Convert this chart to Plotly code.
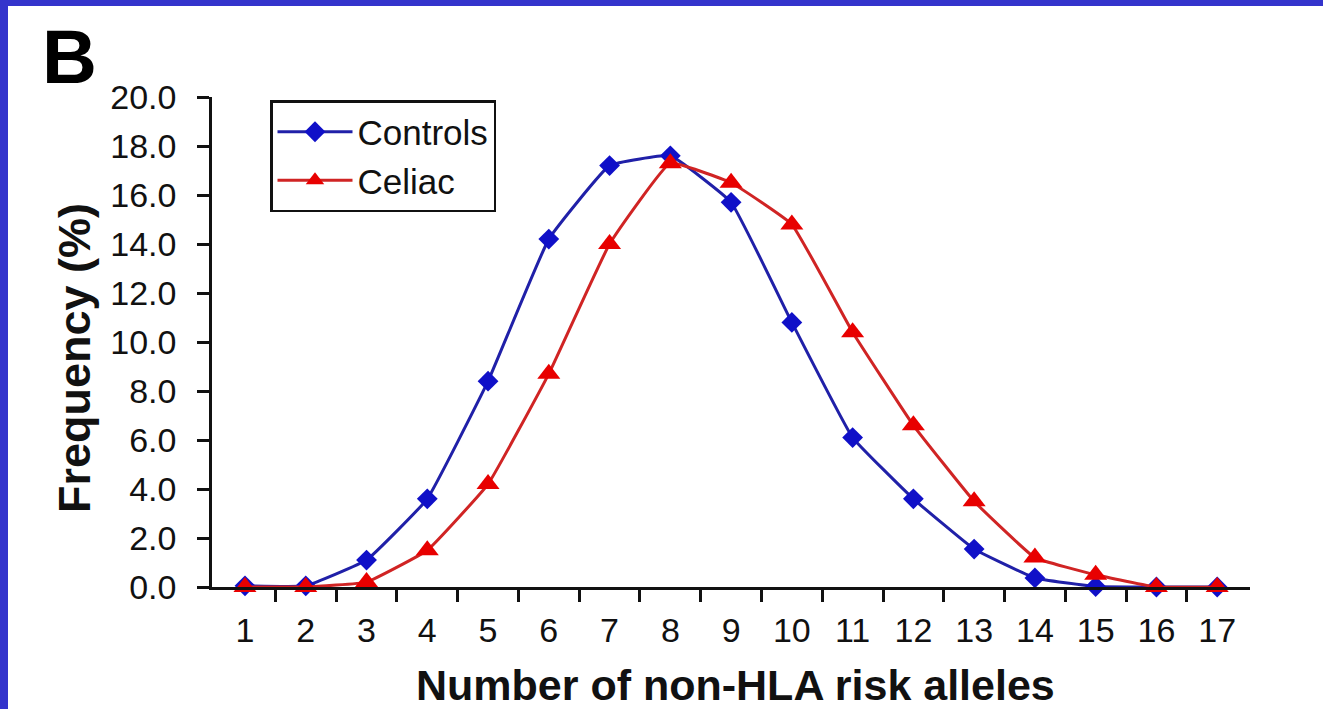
import plotly.graph_objects as go

alleles = list(range(1, 18))
controls = [0.05, 0.05, 1.1, 3.6, 8.4, 14.2, 17.2, 17.6, 15.7, 10.8, 6.1, 3.6, 1.55, 0.37, 0.02, 0.0, 0.0]
celiac = [0.0, 0.0, 0.2, 1.5, 4.2, 8.7, 14.0, 17.3, 16.5, 14.8, 10.4, 6.6, 3.5, 1.2, 0.5, 0.0, 0.0]
y_ticks = [0, 2, 4, 6, 8, 10, 12, 14, 16, 18, 20]
x_ticks = alleles
x_minor = [a + 0.5 for a in alleles[:-1]]

W, H = 1323, 709
L, R, T, B = 212, 73, 97, 122
pw, ph = W - L - R, H - T - B

def px(x):
    return (x - L) / pw

def py(y):
    return (H - B - y) / ph

FONT = "Liberation Sans, Arial, Helvetica, sans-serif"

fig = go.Figure()
fig.add_trace(go.Scatter(
    x=alleles, y=controls, name="Controls", mode="lines+markers",
    line=dict(color="#2020a8", width=3, shape="spline", smoothing=0.3),
    marker=dict(symbol="diamond", size=16, color="#1010c8"),
    cliponaxis=False,
))
fig.add_trace(go.Scatter(
    x=alleles, y=celiac, name="Celiac", mode="lines+markers",
    line=dict(color="#d02424", width=3, shape="spline", smoothing=0.3),
    marker=dict(symbol="triangle-up", size=20, color="#e80000"),
    cliponaxis=False,
))

fig.update_layout(
    width=W, height=H,
    margin=dict(l=L, r=R, t=T, b=B, pad=0),
    paper_bgcolor="white", plot_bgcolor="white",
    font=dict(family=FONT, color="#111111"),
    showlegend=True,
    legend=dict(
        x=px(270), y=py(100), xanchor="left", yanchor="top",
        bordercolor="#111111", borderwidth=2.5, bgcolor="white",
        font=dict(size=35, family=FONT, color="#111111"),
        itemwidth=75, tracegroupgap=0,
    ),
    xaxis=dict(
        range=[0.457, 17.54], showgrid=False, zeroline=False,
        showline=True, linecolor="#111111", linewidth=2.5,
        tickmode="array", tickvals=x_ticks, ticktext=[str(v) for v in x_ticks],
        ticks="", ticklabelstandoff=11,
        tickfont=dict(size=34, family=FONT, color="#111111"),
        minor=dict(tickmode="array", tickvals=x_minor, ticks="outside",
                   ticklen=12, tickwidth=2.5, tickcolor="#111111", showgrid=False),
    ),
    yaxis=dict(
        range=[0, 20], showgrid=False, zeroline=False,
        showline=True, linecolor="#111111", linewidth=2.5,
        tickmode="array", tickvals=y_ticks, ticktext=[f"{v:.1f}" for v in y_ticks],
        ticks="outside", ticklen=12, tickwidth=2.5, tickcolor="#111111",
        ticklabelstandoff=14,
        tickfont=dict(size=34, family=FONT, color="#111111"),
    ),
    annotations=[
        dict(text="<b>Number of non-HLA risk alleles</b>", xref="paper", yref="paper",
             x=px(735), y=py(685), xanchor="center", yanchor="middle", showarrow=False,
             font=dict(size=43, family=FONT, color="#111111")),
        dict(text="<b>Frequency (%)</b>", xref="paper", yref="paper",
             x=px(74), y=py(358), xanchor="center", yanchor="middle", showarrow=False,
             textangle=-90, font=dict(size=45, family=FONT, color="#111111")),
        dict(text="<b>B</b>", xref="paper", yref="paper",
             x=px(69), y=py(57), xanchor="center", yanchor="middle", showarrow=False,
             font=dict(size=76, family=FONT, color="#000000")),
    ],
    shapes=[
        dict(type="rect", xref="paper", yref="paper", x0=px(0), x1=px(W), y0=py(6), y1=py(0),
             fillcolor="#3434cc", line=dict(width=0), layer="above"),
        dict(type="rect", xref="paper", yref="paper", x0=px(0), x1=px(8), y0=py(H), y1=py(0),
             fillcolor="#3434cc", line=dict(width=0), layer="above"),
    ],
)

fig.write_html("out.html")
